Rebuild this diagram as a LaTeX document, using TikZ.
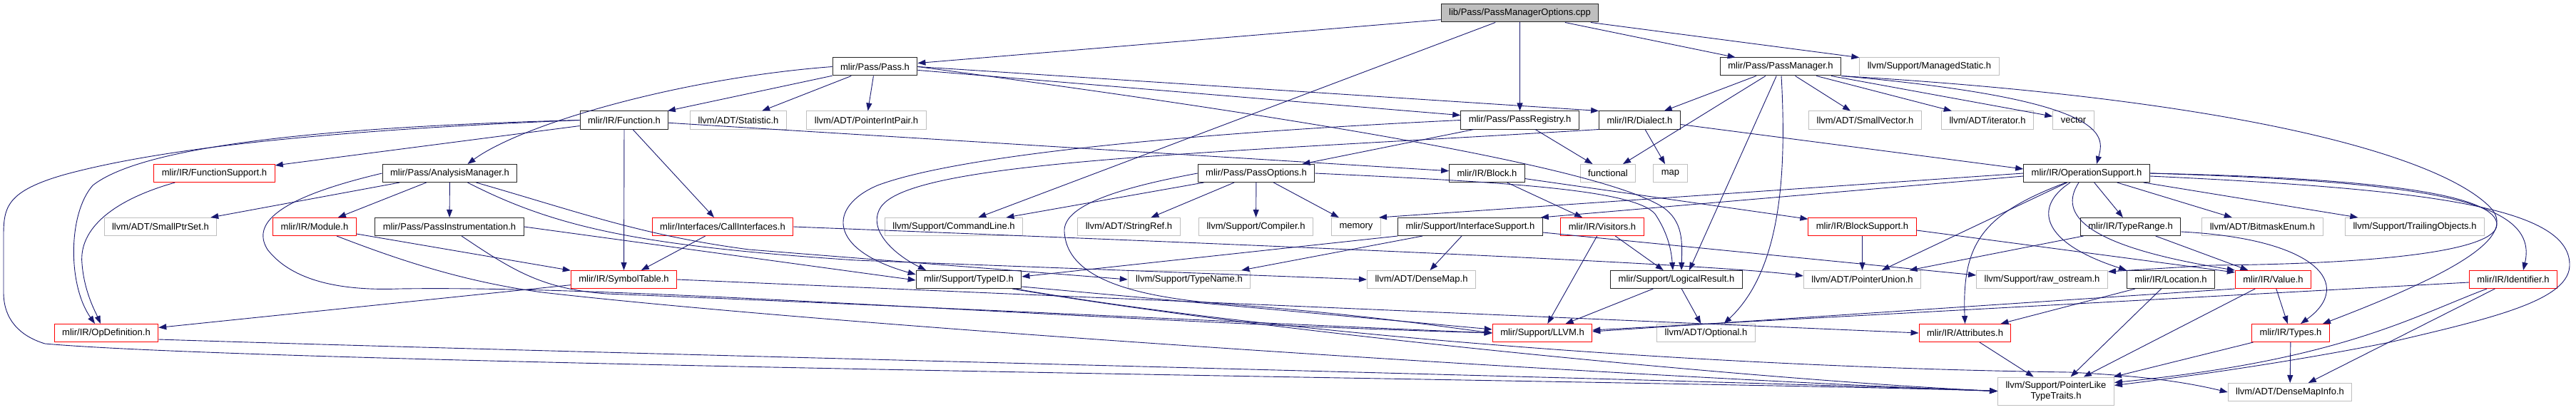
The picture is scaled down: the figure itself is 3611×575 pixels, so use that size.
\documentclass[tikz,border=0pt]{standalone}
\usepackage{fontspec}
\setmainfont{Liberation Sans}
\usepackage{tikz}
\usetikzlibrary{arrows.meta}
\definecolor{edgeblue}{HTML}{191970}

\begin{document}
\begin{tikzpicture}[
    x=1pt, y=-1pt,
    hdr/.style={rectangle, draw=black!85, fill=white, line width=1pt, minimum height=25pt, inner xsep=11pt, inner ysep=0pt},
    ext/.style={hdr, draw=gray!50},
    trunc/.style={hdr, draw=red},
    src/.style={hdr, fill=gray!50},
    inc/.style={-{Triangle[length=11pt,width=8pt]}, line width=0.9pt, draw=edgeblue, fill=none},
    every node/.style={font=\fontsize{13}{15}\selectfont}
    ]

    \useasboundingbox (0,0) rectangle (3611,575);

    % Nodes
    \node[src] (root) at (2130.5,18.5) {lib/Pass/PassManagerOptions.cpp};

    \node[hdr] (pass) at (1226.5,93.5) {mlir/Pass/Pass.h};
    \node[hdr] (passmgr) at (2496,93.5) {mlir/Pass/PassManager.h};
    \node[ext] (mgdstatic) at (2704.5,93.5) {llvm/Support/ManagedStatic.h};

    \node[hdr] (func) at (875,168.5) {mlir/IR/Function.h};
    \node[ext] (statistic) at (1035,168.5) {llvm/ADT/Statistic.h};
    \node[ext] (ptrintpair) at (1214.5,168.5) {llvm/ADT/PointerIntPair.h};
    \node[hdr] (passreg) at (2130.5,168.5) {mlir/Pass/PassRegistry.h};
    \node[hdr] (dialect) at (2298.5,168.5) {mlir/IR/Dialect.h};
    \node[ext] (smallvec) at (2614.5,168.5) {llvm/ADT/SmallVector.h};
    \node[ext] (iterator) at (2786,168.5) {llvm/ADT/iterator.h};
    \node[ext] (vector) at (2906.5,168.5) {vector};

    \node[trunc] (funcsupp) at (300.5,243) {mlir/IR/FunctionSupport.h};
    \node[hdr] (anamgr) at (630.5,243) {mlir/Pass/AnalysisManager.h};
    \node[hdr] (passopts) at (1761,243) {mlir/Pass/PassOptions.h};
    \node[hdr] (block) at (2084.5,243) {mlir/IR/Block.h};
    \node[ext] (functional) at (2254,243) {functional};
    \node[ext] (map) at (2341.5,243) {map};
    \node[hdr] (opsupp) at (2925,243) {mlir/IR/OperationSupport.h};

    \node[ext] (smallptrset) at (225,318) {llvm/ADT/SmallPtrSet.h};
    \node[trunc] (module) at (441,318) {mlir/IR/Module.h};
    \node[hdr] (passinstr) at (630,318) {mlir/Pass/PassInstrumentation.h};
    \node[trunc] (callif) at (1013,318) {mlir/Interfaces/CallInterfaces.h};
    \node[ext] (cmdline) at (1337,318) {llvm/Support/CommandLine.h};
    \node[ext] (strref) at (1582.5,318) {llvm/ADT/StringRef.h};
    \node[ext] (compiler) at (1760.5,318) {llvm/Support/Compiler.h};
    \node[ext] (memory) at (1901,318) {memory};
    \node[hdr] (ifsupp) at (2061,318) {mlir/Support/InterfaceSupport.h};
    \node[trunc] (visitors) at (2246,318) {mlir/IR/Visitors.h};
    \node[trunc] (blocksupp) at (2610.5,318) {mlir/IR/BlockSupport.h};
    \node[hdr] (typerange) at (2986.5,318) {mlir/IR/TypeRange.h};
    \node[ext] (bitmask) at (3171.5,318) {llvm/ADT/BitmaskEnum.h};
    \node[ext] (trailing) at (3385,318) {llvm/Support/TrailingObjects.h};

    \node[trunc] (symtab) at (874.5,392) {mlir/IR/SymbolTable.h};
    \node[hdr] (typeid) at (1358,392) {mlir/Support/TypeID.h};
    \node[ext] (typename) at (1667,392) {llvm/Support/TypeName.h};
    \node[ext] (densemap) at (1992.5,392) {llvm/ADT/DenseMap.h};
    \node[hdr] (logres) at (2350,392) {mlir/Support/LogicalResult.h};
    \node[ext] (ptrunion) at (2610.5,392) {llvm/ADT/PointerUnion.h};
    \node[ext] (rawos) at (2862.5,392) {llvm/Support/raw\_ostream.h};
    \node[hdr] (location) at (3043,392) {mlir/IR/Location.h};
    \node[trunc] (value) at (3186.5,392) {mlir/IR/Value.h};
    \node[trunc] (ident) at (3523,392) {mlir/IR/Identifier.h};

    \node[trunc] (opdef) at (149,467) {mlir/IR/OpDefinition.h};
    \node[trunc] (llvmh) at (2162,467) {mlir/Support/LLVM.h};
    \node[ext] (optional) at (2391.5,467) {llvm/ADT/Optional.h};
    \node[trunc] (attrs) at (2754.5,467) {mlir/IR/Attributes.h};
    \node[trunc] (types) at (3211,467) {mlir/IR/Types.h};

    \node[ext, minimum height=39pt, align=center] (ptrlike) at (2882,548.5) {llvm/Support/PointerLike\\TypeTraits.h};
    \node[ext] (dmapinfo) at (3210,550) {llvm/ADT/DenseMapInfo.h};

    % Edges from the source file
    \draw[inc] (root) -- (pass);

    \draw[inc] (root) -- (cmdline);

    \draw[inc] (root) -- (passreg);

    \draw[inc] (root) -- (passmgr);

    \draw[inc] (root) -- (mgdstatic);

    % Pass.h
    \draw[inc] (pass.west) .. controls (950,110) and (730,175) .. ([xshift=25pt]anamgr.north);

    \draw[inc] (pass) -- (func);

    \draw[inc] (pass) -- (statistic);

    \draw[inc] (pass) -- (ptrintpair);

    \draw[inc] (pass) -- (passreg);

    \draw[inc] (pass.east) -- (dialect.north west);

    \draw[inc] (pass.east) .. controls (1900,175) and (2250,240) .. (2330,290) .. controls (2360,310) and (2358,340) .. ([xshift=7pt]logres.north);

    % Function.h
    \draw[inc] (func) -- (funcsupp);

    \draw[inc] (func.west) .. controls (450,178) and (200,205) .. (130,260) .. controls (95,300) and (95,400) .. ([xshift=-16pt]opdef.north);

    \draw[inc] (func.west) .. controls (400,185) and (200,215) .. (90,245) .. controls (10,268) and (5,290) .. (5,330) -- (5,410) .. controls (5,450) and (30,472) .. (63,482) .. controls (400,512) and (2400,535) .. (ptrlike.west);

    \draw[inc] (func) -- (symtab);

    \draw[inc] (func) -- (callif);

    \draw[inc] (func) -- (block);

    \draw[inc] ([xshift=30pt]funcsupp.south west) .. controls (160,280) and (110,320) .. (115,370) .. controls (118,410) and (135,440) .. ([xshift=-8pt]opdef.north);

    % AnalysisManager.h
    \draw[inc] (anamgr) -- (smallptrset);

    \draw[inc] (anamgr) -- (module);

    \draw[inc] (anamgr) -- (passinstr);

    \draw[inc] (anamgr.west) .. controls (400,275) and (350,310) .. (375,350) .. controls (410,395) and (480,408) .. (560,405) .. controls (900,400) and (1500,450) .. (llvmh.west);

    \draw[inc] ([xshift=25pt]anamgr.south) .. controls (780,320) and (900,345) .. (1200,365) -- (densemap.west);

    \draw[inc] ([xshift=37pt]anamgr.south) .. controls (820,300) and (900,330) .. (1050,350) -- (typename.west);

    \draw[inc] (module) -- (symtab);

    \draw[inc] ([xshift=31pt]module.south) .. controls (560,365) and (650,395) .. (760,410) .. controls (1200,460) and (2300,530) .. (ptrlike.west);

    \draw[inc] (passinstr.east) -- ([yshift=-1pt]typeid.west);

    \draw[inc] ([xshift=17pt]passinstr.south) .. controls (720,380) and (760,405) .. (850,412) .. controls (1300,430) and (1800,455) .. (llvmh.west);

    \draw[inc] (callif) -- (symtab);

    \draw[inc] (callif.east) .. controls (1800,345) and (2400,370) .. ([yshift=5pt]ptrunion.west);

    \draw[inc] (symtab) -- (opdef);

    \draw[inc] (symtab.east) -- (attrs.west);

    \draw[inc] ([yshift=-9pt]opdef.east) .. controls (800,495) and (2300,530) .. (ptrlike.west);

    % PassRegistry.h, Dialect.h, PassOptions.h
    \draw[inc] (passreg) -- (passopts);

    \draw[inc] (passreg) -- (functional);

    \draw[inc] (passreg.west) .. controls (1700,185) and (1350,215) .. (1230,260) .. controls (1160,290) and (1160,350) .. ([yshift=7pt]typeid.west);

    \draw[inc] (dialect) -- (map);

    \draw[inc] ([yshift=-6pt]dialect.east) -- ([yshift=6pt]opsupp.west);

    \draw[inc] (dialect.south west) .. controls (1700,215) and (1280,225) .. (1235,290) .. controls (1215,320) and (1250,355) .. ([xshift=-60pt]typeid.north);

    \draw[inc] (passopts) -- (cmdline);

    \draw[inc] (passopts) -- (strref);

    \draw[inc] (passopts) -- (compiler);

    \draw[inc] (passopts) -- (memory);

    \draw[inc] (passopts.west) .. controls (1560,265) and (1490,290) .. (1492,325) .. controls (1495,380) and (1560,412) .. (1700,425) .. controls (1900,440) and (2000,455) .. (llvmh.west);

    \draw[inc] (passopts.east) .. controls (2100,255) and (2290,265) .. (2320,300) .. controls (2340,330) and (2343,355) .. ([xshift=-5pt]logres.north);

    \draw[inc] (block) -- (visitors);

    \draw[inc] (block) -- (blocksupp);

    % PassManager.h
    \draw[inc] (passmgr) -- (dialect);

    \draw[inc] (passmgr) -- (functional);

    \draw[inc] (passmgr) -- ([xshift=18pt]logres.north);

    \draw[inc] ([xshift=1pt]passmgr.south) .. controls (2505,250) and (2495,380) .. ([xshift=25pt]optional.north);

    \draw[inc] (passmgr) -- (smallvec);

    \draw[inc] (passmgr) -- (iterator);

    \draw[inc] (passmgr) -- (vector);

    \draw[inc] (passmgr.south east) .. controls (2960,140) and (2950,190) .. ([xshift=14pt]opsupp.north);

    \draw[inc] (passmgr.south east) .. controls (3150,140) and (3420,220) .. (3490,290) .. controls (3530,330) and (3450,380) .. ([xshift=45pt]types.north);

    % OperationSupport.h
    \draw[inc] (opsupp.west) -- ([xshift=-3pt]memory.north east);

    \draw[inc] ([yshift=-4pt]opsupp.west) -- ([xshift=-3pt]ifsupp.north east);

    \draw[inc] (opsupp) -- (ptrunion);

    \draw[inc] ([xshift=-29pt]opsupp.south) .. controls (2780,300) and (2750,340) .. (attrs.north);

    \draw[inc] ([xshift=-23pt]opsupp.south) .. controls (2850,290) and (2860,340) .. (location.north west);

    \draw[inc] ([xshift=-11pt]opsupp.south) .. controls (2885,300) and (2920,345) .. (value.north west);

    \draw[inc] (opsupp) -- (typerange);

    \draw[inc] (opsupp) -- (bitmask);

    \draw[inc] (opsupp) -- (trailing);

    \draw[inc] (opsupp.east) .. controls (3400,255) and (3560,280) .. ([xshift=14pt]ident.north);

    \draw[inc] (opsupp.east) .. controls (3350,250) and (3500,275) .. (3500,315) .. controls (3500,350) and (3350,370) .. (3100,372) -- ([yshift=-2pt]rawos.north east);

    \draw[inc] ([yshift=-4pt]opsupp.east) .. controls (3400,265) and (3600,290) .. (3602,370) .. controls (3604,420) and (3500,445) .. (3350,480) .. controls (3200,510) and (3050,530) .. ([yshift=8pt]ptrlike.east);

    \draw[inc] (typerange) -- (value);

    \draw[inc] (typerange) -- (ptrunion);

    \draw[inc] ([yshift=-7pt]typerange.east) .. controls (3250,335) and (3300,400) .. ([xshift=14pt]types.north);

    \draw[inc] (blocksupp) -- (ptrunion);

    \draw[inc] ([yshift=-5pt]blocksupp.east) -- ([yshift=-3pt]value.north west);

    % lower headers
    \draw[inc] ([yshift=-10pt]typeid.east) -- ([yshift=5pt]llvmh.west);

    \draw[inc] ([xshift=61pt]typeid.south) .. controls (1800,470) and (2500,535) .. (ptrlike.west);

    \draw[inc] ([xshift=65pt]typeid.south) .. controls (1800,470) and (2400,515) .. (2900,522) .. controls (3000,527) and (3060,535) .. (dmapinfo.west);

    \draw[inc] (ifsupp.south west) -- ([yshift=4pt]typeid.east);

    \draw[inc] (ifsupp) -- (densemap);

    \draw[inc] ([xshift=-67pt]ifsupp.south) -- ([xshift=-13pt]typename.north east);

    \draw[inc] ([yshift=-8pt]ifsupp.east) -- ([yshift=6pt]rawos.west);

    \draw[inc] (visitors) -- (llvmh);

    \draw[inc] (visitors) -- (logres);

    \draw[inc] (logres) -- (llvmh);

    \draw[inc] (logres) -- (optional);

    \draw[inc] (location) -- (attrs);

    \draw[inc] (location) -- (ptrlike);

    \draw[inc] (value) -- (types);

    \draw[inc] (value) -- (ptrlike);

    \draw[inc] (value.south west) -- ([yshift=2pt]llvmh.east);

    \draw[inc] ([yshift=-4pt]ident.west) -- ([yshift=4pt]llvmh.east);

    \draw[inc] (ident) -- (dmapinfo);

    \draw[inc] ([xshift=-37pt]ident.south) .. controls (3380,445) and (3280,505) .. ([yshift=12pt]ptrlike.east);

    \draw[inc] (types) -- (dmapinfo);

    \draw[inc] (types) -- (ptrlike);

    \draw[inc] (attrs) -- (ptrlike);

\end{tikzpicture}
\end{document}
